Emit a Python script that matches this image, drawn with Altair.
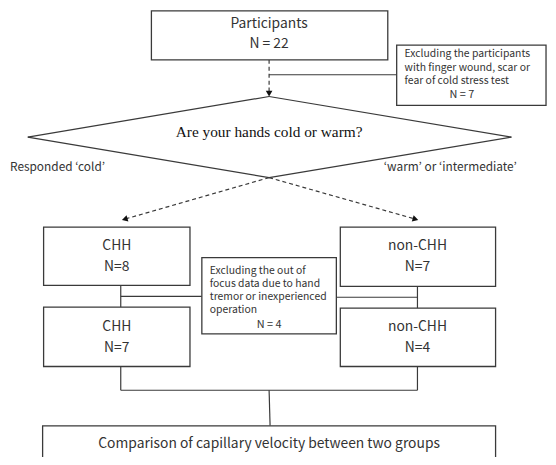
import altair as alt
import pandas as pd

# ---- boxes (pixel coordinates of the flowchart) ----
box_names = ["participants", "excl_top", "chh8", "nonchh7", "excl_mid", "chh7", "nonchh4", "bottom"]
box_x1 = [153, 401, 44, 344, 204, 44, 344, 43]
box_x2 = [392, 552, 192, 501, 340, 192, 501, 501]
box_y1 = [8.5, 43, 227, 227, 258, 308, 309, 428]
box_y2 = [58, 104, 286, 287, 335, 368, 368, 464]

# ---- solid connector segments ----
solid_x1 = [272, 28, 272, 517, 272, 122, 122, 422, 340, 122, 422, 122, 272]
solid_y1 = [73, 136, 95, 136, 177, 286, 297, 287, 298, 368, 368, 392, 392]
solid_x2 = [401, 272, 517, 272, 28, 122, 204, 422, 422, 122, 422, 422, 273]
solid_y2 = [73, 95, 136, 177, 136, 308, 297, 309, 298, 392, 392, 392, 428]

# ---- dashed arrows ----
dash_x1 = [272, 272, 272]
dash_y1 = [58, 177, 177]
dash_x2 = [272, 126, 420]
dash_y2 = [92, 219, 219]
arrow_angle = [180, 253.7, 106.7]

# ---- text ----
big_text = ["Participants", "N = 22", "CHH", "N=8", "non-CHH", "N=7", "CHH", "N=7", "non-CHH", "N=4",
            "Comparison of capillary velocity between two groups"]
big_x = [272, 272, 118, 118, 422, 422, 118, 118, 422, 422, 272]
big_y = [22, 42, 246, 267, 246, 267, 328, 349, 328, 349, 446]

small_text = ["Excluding the participants", "with finger wound, scar or", "fear of cold stress test",
              "Excluding the out of", "focus data due to hand", "tremor or inexperienced", "operation"]
small_x = [409, 409, 409, 212, 212, 212, 212]
small_y = [52, 66, 79, 271, 285, 298, 311]

small_c_text = ["N = 7", "N = 4"]
small_c_x = [467, 272]
small_c_y = [93, 326]

label_text = ["Responded \u2018cold\u2019", "\u2018warm\u2019 or \u2018intermediate\u2019"]
label_x = [10, 388]
label_y = [166, 166]

question = ["Are your hands cold or warm?"]
question_x = [272]
question_y = [131]

W, H = 546, 449
xs = alt.Scale(domain=[8, 8 + W], nice=False, zero=False)
ys = alt.Scale(domain=[8, 8 + H], nice=False, zero=False, reverse=True)

def X(f):
    return alt.X(f, type="quantitative", scale=xs, axis=None)

def Y(f):
    return alt.Y(f, type="quantitative", scale=ys, axis=None)

LINE = "#3a3a3a"
TXT = "#333333"

boxes = pd.DataFrame({"name": box_names, "x": box_x1, "x2": box_x2, "y": box_y1, "y2": box_y2})
solid = pd.DataFrame({"x": solid_x1, "y": solid_y1, "x2": solid_x2, "y2": solid_y2})
dashed = pd.DataFrame({"x": dash_x1, "y": dash_y1, "x2": dash_x2, "y2": dash_y2, "angle": arrow_angle})

solid_layer = alt.Chart(solid).mark_rule(color=LINE, strokeWidth=1.2).encode(
    x=X("x"), y=Y("y"), x2="x2", y2="y2")
dash_layer = alt.Chart(dashed).mark_rule(color=LINE, strokeWidth=1.2, strokeDash=[4, 3]).encode(
    x=X("x"), y=Y("y"), x2="x2", y2="y2")
heads = alt.Chart(dashed).mark_point(shape="triangle-up", filled=True, color="#111111", size=45, opacity=1).encode(
    x=X("x2"), y=Y("y2"), angle=alt.Angle("angle:Q", scale=None))
box_layer = alt.Chart(boxes).mark_rect(fill="white", stroke=LINE, strokeWidth=1.3).encode(
    x=X("x"), x2="x2", y=Y("y"), y2="y2")

FONT = "Noto Sans CJK KR"
big = alt.Chart(pd.DataFrame({"t": big_text, "x": big_x, "y": big_y})).mark_text(
    font=FONT, fontSize=14, color=TXT, align="center", baseline="middle").encode(
    x=X("x"), y=Y("y"), text="t:N")
small = alt.Chart(pd.DataFrame({"t": small_text, "x": small_x, "y": small_y})).mark_text(
    font=FONT, fontSize=10.5, color=TXT, align="left", baseline="middle").encode(
    x=X("x"), y=Y("y"), text="t:N")
small_c = alt.Chart(pd.DataFrame({"t": small_c_text, "x": small_c_x, "y": small_c_y})).mark_text(
    font=FONT, fontSize=11, color=TXT, align="center", baseline="middle").encode(
    x=X("x"), y=Y("y"), text="t:N")
labels = alt.Chart(pd.DataFrame({"t": label_text, "x": label_x, "y": label_y})).mark_text(
    font=FONT, fontSize=12, color=TXT, align="left", baseline="middle").encode(
    x=X("x"), y=Y("y"), text="t:N")
q = alt.Chart(pd.DataFrame({"t": question, "x": question_x, "y": question_y})).mark_text(
    font="Liberation Serif", fontSize=15.5, color="#111111", align="center", baseline="middle").encode(
    x=X("x"), y=Y("y"), text="t:N")

chart = alt.layer(solid_layer, dash_layer, heads, box_layer, big, small, small_c, labels, q).properties(
    width=W, height=H, padding=0, autosize=alt.AutoSizeParams(type="none")
).configure_view(stroke=None)

chart.save("out.html", embed_options={"renderer": "svg", "actions": False})
